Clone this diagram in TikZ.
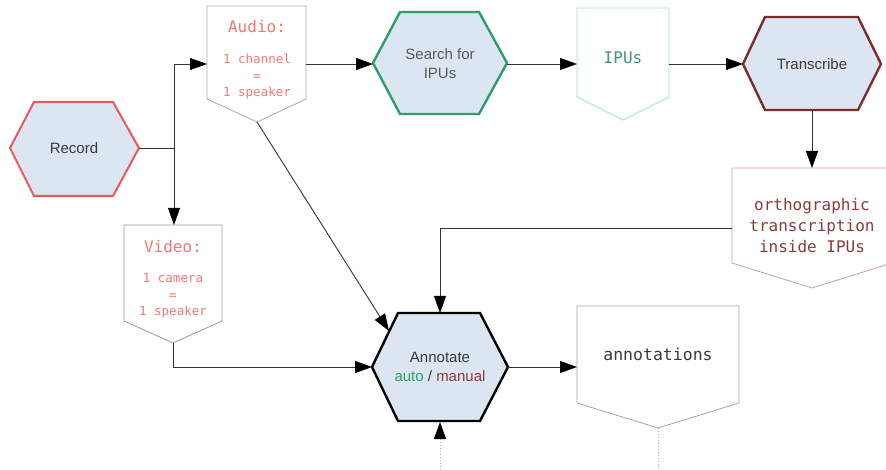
\documentclass[tikz,border=0pt]{standalone}
\usepackage{fontspec}
\setmainfont{Liberation Sans}
\setmonofont{DejaVu Sans Mono}
\usetikzlibrary{arrows.meta}
\definecolor{hexfill}{HTML}{DCE6F2}
\definecolor{recred}{HTML}{E85A5A}
\definecolor{srchgreen}{HTML}{2E9E6A}
\definecolor{trred}{HTML}{7B2D2D}
\definecolor{lightred}{HTML}{F07878}
\definecolor{ipugreen}{HTML}{3A9A6A}
\definecolor{ipuline}{HTML}{A8DCC8}
\definecolor{orthred}{HTML}{8B3A3A}
\definecolor{orthline}{HTML}{C8A0A0}
\definecolor{txtgray}{HTML}{3A3A3A}
\begin{document}
\begin{tikzpicture}[x=1pt,y=-1pt,
  hexlabel/.style={font=\fontsize{15}{19}\selectfont, text=txtgray, align=center},
  monolabel/.style={font=\ttfamily\fontsize{16}{21}\selectfont, align=center},
  conn/.style={draw=black!80, line width=0.9pt, -{Triangle[length=17pt,width=12pt,color=black]}},
  plain/.style={draw=black!80, line width=0.9pt},
  dotline/.style={draw=gray!60, line width=1pt, dotted}]
\clip (0,0) rectangle (886,470);
\fill[white] (0,0) rectangle (886,470);

% hexagons
\draw[recred, line width=2pt, fill=hexfill] (10,148)--(34,102)--(113,102)--(139,148)--(113,196)--(34,196)--cycle;
\draw[srchgreen, line width=2.4pt, fill=hexfill] (373,63)--(400,12)--(479,12)--(507,63)--(479,114)--(400,114)--cycle;
\draw[trred, line width=2.4pt, fill=hexfill] (743,64)--(765,17)--(858,17)--(881,64)--(858,110)--(765,110)--cycle;
\draw[black, line width=2.4pt, fill=hexfill] (372,367)--(398,313)--(480,313)--(508,367)--(480,421)--(398,421)--cycle;

% boxes
\draw[gray!65, line width=0.8pt, fill=white] (207,6)--(306,6)--(306,99)--(257,122)--(207,99)--cycle;
\draw[ipuline, line width=0.8pt, fill=white] (577,8)--(669,8)--(669,97)--(623,120)--(577,97)--cycle;
\draw[orthline, line width=0.8pt, fill=white] (732,168)--(892,168)--(892,263)--(812,288)--(732,263)--cycle;
\draw[gray!80, line width=0.8pt, fill=white] (124,225)--(222,225)--(222,321)--(173,343)--(124,321)--cycle;
\draw[gray!70, line width=0.8pt, fill=white] (577,306)--(739,306)--(739,403)--(658,428)--(577,403)--cycle;

% texts
\node[hexlabel] (record) at (74,148) {Record};
\node[hexlabel, text=black!65] (search) at (440,64) {Search for\\IPUs};
\node[hexlabel] (transcribe) at (812,64) {Transcribe};
\node[hexlabel] (annotate) at (440,367) {Annotate\\\textcolor{srchgreen}{auto} / \textcolor{orthred}{manual}};

\node[monolabel, text=lightred] (audiot) at (257,27) {Audio:};
\node[font=\ttfamily\fontsize{12.5}{16.5}\selectfont, text=lightred, align=center] (audiod) at (257,77) {1 channel\\=\\1 speaker};
\node[monolabel, text=ipugreen] (ipus) at (623,58) {IPUs};
\node[monolabel, text=orthred] (orth) at (812,226) {orthographic\\transcription\\inside IPUs};
\node[monolabel, text=lightred] (videot) at (173,247) {Video:};
\node[font=\ttfamily\fontsize{12.5}{16.5}\selectfont, text=lightred, align=center] (videod) at (173,296) {1 camera\\=\\1 speaker};
\node[monolabel, text=txtgray, font=\ttfamily\fontsize{16.5}{21}\selectfont] (annots) at (658,354) {annotations};

% anchor coordinates
\coordinate (recR) at (139,148);
\coordinate (junc) at (174,148);
\coordinate (audL) at (207,64);
\coordinate (audR) at (306,64);
\coordinate (audP) at (257,122);
\coordinate (srchL) at (373,64);
\coordinate (srchR) at (507,64);
\coordinate (ipuL) at (577,64);
\coordinate (ipuR) at (669,64);
\coordinate (trL) at (743,64);
\coordinate (trB) at (812,110);
\coordinate (orthT) at (812,168);
\coordinate (orthL) at (732,228);
\coordinate (vidT) at (174,225);
\coordinate (vidP) at (173,343);
\coordinate (annT) at (440,313);
\coordinate (annL) at (372,367);
\coordinate (annR) at (508,367);
\coordinate (annB) at (440,422);
\coordinate (annUL) at (389,331);
\coordinate (aoL) at (577,367);
\coordinate (aoP) at (658,428);
\coordinate (botA) at (440,470);
\coordinate (botB) at (658,470);

% connectors
\draw[plain] (recR) -- (junc);
\draw[conn] (junc) |- (audL);
\draw[conn] (junc) -- (vidT);
\draw[conn] (audR) -- (srchL);
\draw[conn] (srchR) -- (ipuL);
\draw[conn] (ipuR) -- (trL);
\draw[conn] (trB) -- (orthT);
\draw[conn] (orthL) -| (annT);
\draw[conn] (vidP) |- (annL);
\draw[conn] (audP) -- (annUL);
\draw[conn] (annR) -- (aoL);
\draw[dotline, -{Triangle[length=17pt,width=12pt,color=black]}] (botA) -- (annB);
\draw[dotline] (aoP) -- (botB);
\end{tikzpicture}
\end{document}
